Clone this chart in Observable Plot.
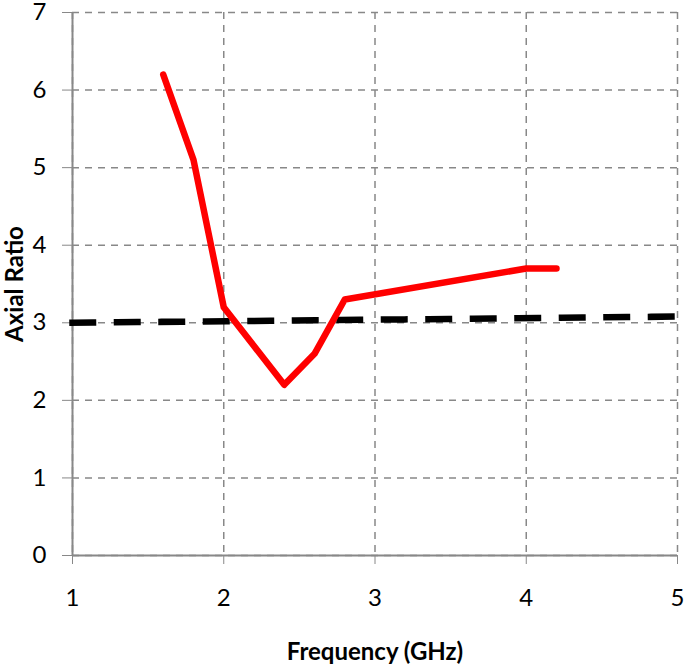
<!DOCTYPE html>
<html>
<head>
<meta charset="utf-8">
<script src="https://cdn.jsdelivr.net/npm/d3@7"></script>
<script src="https://cdn.jsdelivr.net/npm/@observablehq/plot@0.6"></script>
<style>
  body { margin: 0; background: #fff; }
  svg { font-family: Lato, "Open Sans", sans-serif; }
</style>
</head>
<body>
<div id="chart"></div>
<script>
const freq = [1.6, 1.8, 2.0, 2.2, 2.4, 2.6, 2.8, 4.0, 4.2];
const axialRatio = [6.2, 5.1, 3.2, 2.7, 2.2, 2.6, 3.3, 3.7, 3.7];
const refFreq = [1, 5];
const refValue = [3.0, 3.08];
const xTicks = [1, 2, 3, 4, 5];
const yTicks = [0, 1, 2, 3, 4, 5, 6, 7];

const arData = freq.map((f, i) => ({f, v: axialRatio[i]}));
const refData = refFreq.map((f, i) => ({f, v: refValue[i]}));

const chart = Plot.plot({
  width: 685,
  height: 670,
  marginLeft: 72,
  marginRight: 8,
  marginTop: 12,
  marginBottom: 115,
  style: {fontFamily: "Lato, 'Open Sans', sans-serif", fontSize: "24px", color: "#000", background: "#fff", overflow: "visible"},
  x: {domain: [1, 5], ticks: xTicks},
  y: {domain: [0, 7], ticks: yTicks},
  marks: [
    Plot.gridX(xTicks, {stroke: "#888", strokeOpacity: 1, strokeWidth: 1.5, strokeDasharray: "7,6"}),
    Plot.gridY(yTicks, {stroke: "#888", strokeOpacity: 1, strokeWidth: 1.5, strokeDasharray: "7,6"}),
    Plot.axisX(xTicks, {stroke: "#888", tickSize: 9, tickPadding: 24, fontSize: 24, tickFormat: d3.format("d"), label: null}),
    Plot.axisY(yTicks, {stroke: "#888", tickSize: 10, tickPadding: 16, fontSize: 24, tickFormat: d3.format("d"), label: null}),
    Plot.ruleX([1], {stroke: "#888", strokeWidth: 2}),
    Plot.ruleY([0], {stroke: "#888", strokeWidth: 2}),
    Plot.line(refData, {x: "f", y: "v", stroke: "#000", strokeWidth: 6.5, strokeDasharray: "20.5,24", strokeLinecap: "square"}),
    Plot.line(arData, {x: "f", y: "v", stroke: "#ff0000", strokeWidth: 6.5, strokeLinecap: "round", strokeLinejoin: "round"}),
    Plot.text(["Frequency (GHz)"], {frameAnchor: "bottom", dy: 104, fontSize: 24, fontWeight: "bold", fill: "#000"}),
    Plot.text(["Axial Ratio"], {frameAnchor: "left", textAnchor: "middle", dx: -57, rotate: -90, fontSize: 24, fontWeight: "bold", fill: "#000"})
  ]
});
document.getElementById("chart").appendChild(chart);
</script>
</body>
</html>
